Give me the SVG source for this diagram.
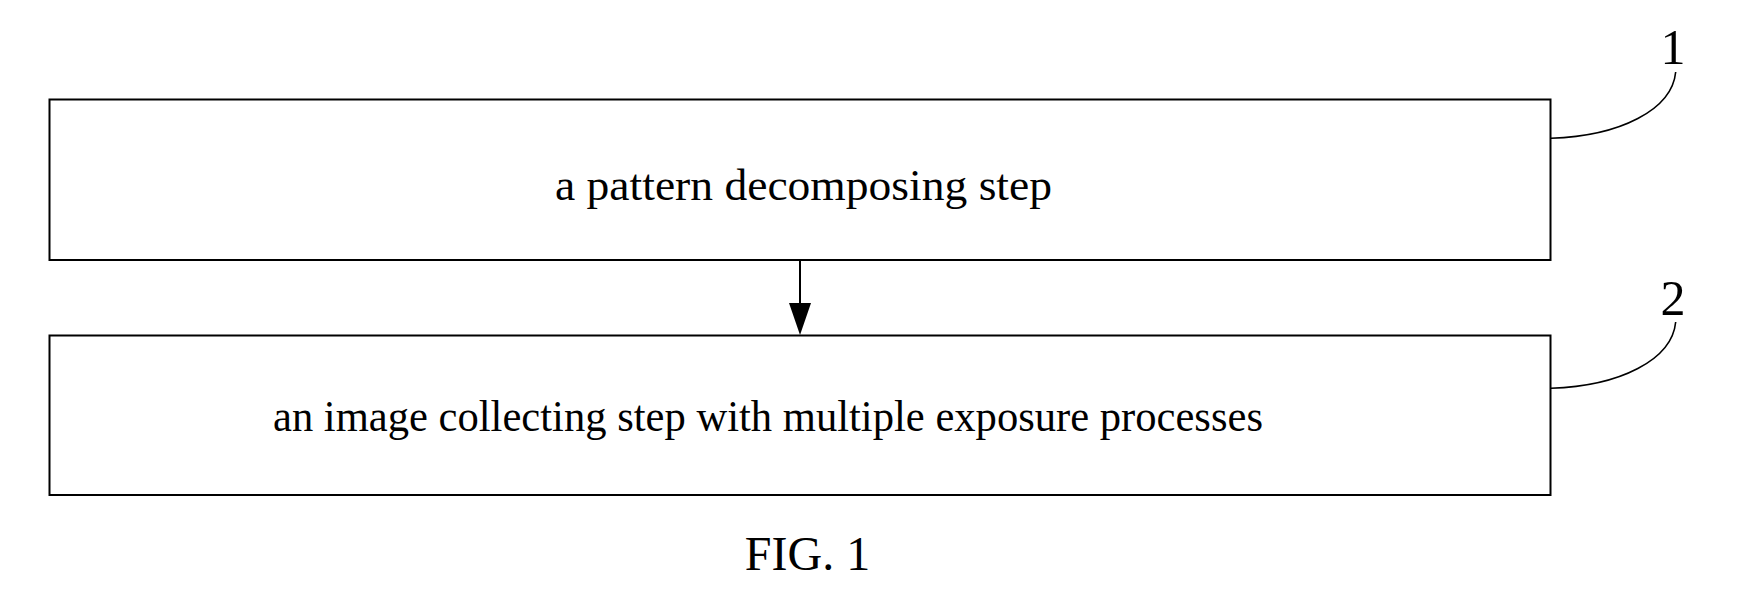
<svg xmlns="http://www.w3.org/2000/svg" width="1749" height="611" viewBox="0 0 1749 611">
<style>
.box{fill:#fff;stroke:#000;stroke-width:2}
.lead{fill:none;stroke:#000;stroke-width:1.6}
.lbl{font-family:"Liberation Serif","Times New Roman",serif;fill:#000}
</style>
<rect width="1749" height="611" fill="#fff"/>
<g id="node1">
<rect class="box" x="49.5" y="99.5" width="1501" height="160.5"/>
<text class="lbl" x="555" y="200" font-size="45" textLength="497" lengthAdjust="spacingAndGlyphs">a pattern decomposing step</text>
</g>
<g id="node2">
<rect class="box" x="49.5" y="335.5" width="1501" height="159.5"/>
<text class="lbl" x="273" y="431" font-size="45" textLength="990" lengthAdjust="spacingAndGlyphs">an image collecting step with multiple exposure processes</text>
</g>
<g id="ref1">
<text class="lbl" x="1673" y="64" font-size="50" text-anchor="middle">1</text>
</g>
<g id="ref2">
<text class="lbl" x="1673" y="315" font-size="50" text-anchor="middle">2</text>
</g>
<g id="connectors">
<line x1="800" y1="260" x2="800" y2="304" stroke="#000" stroke-width="2"/>
<polygon points="789,303 811,303 800,335" fill="#000"/>
<path class="lead" d="M1551,138.3 C1620,136 1672,110 1675.7,72"/>
<path class="lead" d="M1551,388.3 C1620,386 1672,360 1675.7,322"/>
</g>
<text class="lbl" x="807.5" y="570" font-size="48" text-anchor="middle">FIG. 1</text>
</svg>
